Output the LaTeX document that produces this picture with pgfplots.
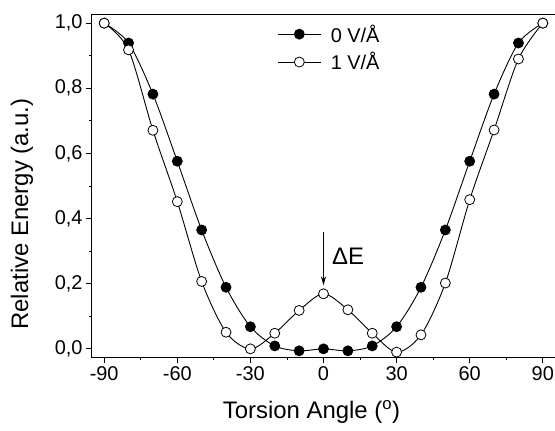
\documentclass[border=0pt]{standalone}
\usepackage{fontspec}
\setmainfont{Liberation Sans}
\usepackage{pgfplots}
\pgfplotsset{compat=1.18}
\usetikzlibrary{arrows.meta}

\begin{document}
\begin{tikzpicture}
\begin{axis}[
    scale only axis,
    width=463bp,
    height=342bp,
    xmin=-95, xmax=95,
    ymin=-0.025, ymax=1.025,
    xtick={-90,-60,-30,0,30,60,90},
    minor xtick={-75,-45,-15,15,45,75},
    ytick={0,0.2,0.4,0.6,0.8,1.0},
    minor ytick={0.1,0.3,0.5,0.7,0.9},
    tick pos=left,
    tick align=outside,
    major tick length=6bp,
    minor tick length=3bp,
    every tick/.style={black, line width=0.8bp},
    axis line style={line width=1bp},
    /pgf/number format/assume math mode=true,
    yticklabel style={/pgf/number format/.cd, use comma, fixed, fixed zerofill, precision=1},
    tick label style={font=\fontsize{20}{23}\selectfont},
    label style={font=\fontsize{24}{28}\selectfont},
    xlabel={Torsion Angle (\textsuperscript{o})},
    ylabel={Relative Energy (a.u.)},
    xlabel style={at={(axis description cs:0.5,0)}, anchor=center, yshift=-55bp, xshift=-12bp},
    ylabel style={at={(axis description cs:0,0.418)}, anchor=center, yshift=70bp},
    legend style={draw=none, fill=none, at={(axis description cs:0.401,0.978)},
        anchor=north west, font=\fontsize{20}{24}\selectfont,
        row sep=5bp, inner sep=0pt,
        nodes={inner xsep=10bp}},
    legend cell align=left,
    legend image code/.code={%
        \draw[#1, mark repeat=2, mark phase=2]
        plot coordinates {(0bp,0bp) (21bp,0bp) (42bp,0bp)};},
]
\addplot[smooth, black, line width=0.9bp, mark=*, mark size=5bp,
    mark options={fill=black, line width=0.8bp}] coordinates {
  (-90,1.000) (-80,0.939) (-70,0.782) (-60,0.576) (-50,0.365)
  (-40,0.189) (-30,0.068) (-20,0.009) (-10,-0.006) (0,0.000)
  (10,-0.006) (20,0.009) (30,0.068) (40,0.189) (50,0.365)
  (60,0.576) (70,0.782) (80,0.939) (90,1.000)
};
\addlegendentry{0 V/Å}
\addplot[smooth, black, line width=0.9bp, mark=*, mark size=5bp,
    mark options={fill=white, line width=0.8bp}] coordinates {
  (-90,1.000) (-80,0.918) (-70,0.671) (-60,0.452) (-50,0.207)
  (-40,0.051) (-30,0.000) (-20,0.048) (-10,0.118) (0,0.169)
  (10,0.120) (20,0.048) (30,-0.010) (40,0.043) (50,0.202)
  (60,0.458) (70,0.672) (80,0.890) (90,1.000)
};
\addlegendentry{1 V/Å}
\draw[-{Stealth[length=9bp,width=5bp]}, line width=0.8bp]
    (axis cs:0,0.36) -- (axis cs:0,0.195);
\node[anchor=west, font=\fontsize{24}{28}\selectfont, inner sep=0pt]
    at (axis cs:3.5,0.285) {ΔE};
\end{axis}
\pgfresetboundingbox
\path[use as bounding box] (-92bp,-74bp) rectangle (463bp,357bp);
\end{tikzpicture}
\end{document}
